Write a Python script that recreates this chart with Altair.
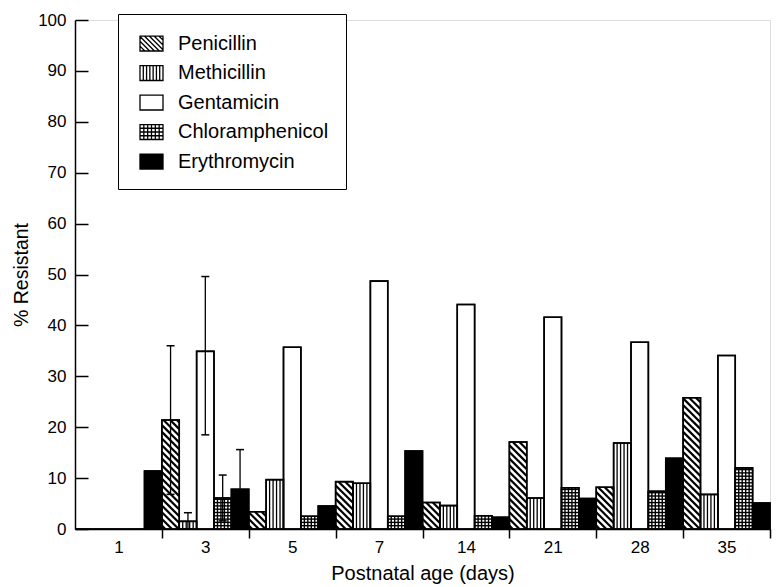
import altair as alt
import pandas as pd

# ---------------- data ----------------
days = ["1", "3", "5", "7", "14", "21", "28", "35"]
drugs = ["Penicillin", "Methicillin", "Gentamicin", "Chloramphenicol", "Erythromycin"]
penicillin = [0, 21.4, 3.4, 9.3, 5.2, 17.1, 8.2, 25.8]
methicillin = [0, 1.5, 9.7, 9.0, 4.6, 6.1, 16.9, 6.8]
gentamicin = [0, 34.9, 35.7, 48.7, 44.1, 41.6, 36.7, 34.1]
chloramphenicol = [0, 6.1, 2.5, 2.5, 2.6, 8.1, 7.4, 12.0]
erythromycin = [11.4, 7.8, 4.5, 15.3, 2.3, 6.0, 13.9, 5.1]

# error bars (shown for day 3 only)
err_day = "3"
err_low = [6.8, 0.0, 18.5, 1.6, 0.6]
err_high = [36.0, 3.2, 49.6, 10.6, 15.6]

series = [penicillin, methicillin, gentamicin, chloramphenicol, erythromycin]

# ---------------- layout constants ----------------
W, H = 695, 509
NB = len(days) * len(drugs)
YMAX = 100.0
pxu = W / NB          # pixels per bar slot
pyu = H / YMAX        # pixels per percent
FONT = "Liberation Sans"
XTITLE = "Postnatal age (days)"
YTITLE = "% Resistant"

# ---------------- derived tables ----------------
rows = []
for g, day in enumerate(days):
    for s, drug in enumerate(drugs):
        idx = g * len(drugs) + s
        rows.append({"day": day, "drug": drug, "x0": idx, "x1": idx + 1,
                     "value": series[s][g], "base": 0.0})
bars = pd.DataFrame(rows)

# hatch segments (computed from the bar values)
diag, vert_m, grid_c = [], [], []
k = pxu / pyu                 # 45 degree slope in data units
sp = 6.7 / pyu                # vertical spacing of diagonal hatch
hstep = 3.3 / pyu             # spacing of horizontal grid lines
for _, r in bars.iterrows():
    v, i = r["value"], r["x0"]
    if v <= 0:
        continue
    if r["drug"] == "Penicillin":
        c = sp * 0.5
        while c < v + k:
            if c <= v:
                xa, ya = i, c
            else:
                xa, ya = i + (c - v) / k, v
            if c - k >= 0:
                xb, yb = i + 1, c - k
            else:
                xb, yb = i + c / k, 0.0
            if xb > xa:
                diag.append({"x": xa, "x2": xb, "y": ya, "y2": yb})
            c += sp
    elif r["drug"] == "Methicillin":
        for j in range(1, 5):
            vert_m.append({"x": i + j / 5, "x2": i + j / 5, "y": 0.0, "y2": v})
    elif r["drug"] == "Chloramphenicol":
        for j in range(1, 5):
            grid_c.append({"x": i + j / 5, "x2": i + j / 5, "y": 0.0, "y2": v})
        yy = hstep
        while yy < v - 0.2:
            grid_c.append({"x": i, "x2": i + 1, "y": yy, "y2": yy})
            yy += hstep
diag = pd.DataFrame(diag)
vert_m = pd.DataFrame(vert_m)
grid_c = pd.DataFrame(grid_c)

g_err = days.index(err_day)
cap = 4.0 / pxu
err = pd.DataFrame({
    "xc": [g_err * len(drugs) + s + 0.5 for s in range(len(drugs))],
    "lo": err_low, "hi": err_high})
err["xa"] = err["xc"] - cap
err["xb"] = err["xc"] + cap

# ---------------- legend icons (custom symbol paths) ----------------
HB = 0.65
BOX = f"M-1,{-HB}L1,{-HB}L1,{HB}L-1,{HB}Z"


def icon_pen():
    p = BOX
    a = -1 - 2 * HB
    while a < 1:
        x1, x2 = max(a, -1), min(a + 2 * HB, 1)
        if x2 > x1:
            p += f"M{x1:.3f},{x1 - a - HB:.3f}L{x2:.3f},{x2 - a - HB:.3f}"
        a += 0.42
    return p


def icon_meth():
    p = BOX
    for j in range(1, 7):
        x = -1 + 2 * j / 7
        p += f"M{x:.3f},{-HB}L{x:.3f},{HB}"
    return p


def icon_chl():
    p = BOX
    for j in range(1, 6):
        x = -1 + 2 * j / 6
        p += f"M{x:.3f},{-HB}L{x:.3f},{HB}"
    for m in range(1, 4):
        y = -HB + 2 * HB * m / 4
        p += f"M-1,{y:.3f}L1,{y:.3f}"
    return p


shapes = [icon_pen(), icon_meth(), BOX, icon_chl(), BOX]
fills = ["white", "white", "white", "white", "black"]

# ---------------- scales / axes ----------------
xscale = alt.Scale(domain=[0, NB], nice=False, zero=False)
yscale = alt.Scale(domain=[0, YMAX], nice=False)
fill_scale = alt.Scale(domain=drugs, range=fills)
shape_scale = alt.Scale(domain=drugs, range=shapes)

days_js = "[" + ",".join(f"'{d}'" for d in days) + "]"
xaxis = alt.Axis(
    values=[2.5 * i for i in range(1, 2 * len(days) + 1)],
    labelExpr=f"datum.value % 5 == 0 ? '' : {days_js}[floor(datum.value / 5)]",
    tickOpacity={"condition": {"test": "datum.value % 5 == 0", "value": 1}, "value": 0},
    tickSize=9, tickWidth=1.5, tickColor="black",
    domainColor="black", domainWidth=1.5,
    labelFontSize=17, labelPadding=1, labelColor="black", labelFont=FONT,
    labelOverlap=False, labelFlush=False,
    grid=False,
    titleFontSize=20, titleFontWeight="normal", titleColor="black", titleFont=FONT,
    titlePadding=8,
)
yaxis = alt.Axis(
    values=list(range(0, 101, 10)),
    tickSize=0, labelPadding=9,
    domainColor="black", domainWidth=1.5,
    grid=True, gridColor="black", gridWidth=1.5, gridOpacity=1, gridDash=[13, 3000],
    labelFontSize=17, labelColor="black", labelFont=FONT,
    titleFontSize=19.5, titleFontWeight="normal", titleColor="black", titleFont=FONT,
    titlePadding=6,
)

legend = alt.Legend(
    title=None, orient="none", legendX=43, legendY=-6,
    fillColor="white", strokeColor="black", padding=17,
    labelFontSize=20, labelFont=FONT, labelColor="black", labelOffset=14,
    labelLimit=400,
    rowPadding=6.5, symbolSize=529, symbolStrokeColor="black", symbolStrokeWidth=1.3,
    symbolOffset=4,
)

base_bars = alt.Chart(bars)

fill_layer = base_bars.mark_rect(stroke="black", strokeWidth=1.5).encode(
    x=alt.X("x0:Q", scale=xscale, axis=xaxis, title=XTITLE),
    x2="x1:Q",
    y=alt.Y("value:Q", scale=yscale, axis=yaxis, title=YTITLE),
    y2="base:Q",
    fill=alt.Fill("drug:N", scale=fill_scale, legend=legend),
)


def seg_layer(df, width):
    return alt.Chart(df).mark_rule(color="black", strokeWidth=width).encode(
        x=alt.X("x:Q", scale=xscale, title=XTITLE),
        x2="x2:Q",
        y=alt.Y("y:Q", scale=yscale, title=YTITLE),
        y2="y2:Q",
    )


pen_layer = seg_layer(diag, 2.2)
meth_layer = seg_layer(vert_m, 1.3)
chl_layer = seg_layer(grid_c, 1.4)

outline_layer = base_bars.mark_rect(fillOpacity=0, stroke="black", strokeWidth=1.6).encode(
    x=alt.X("x0:Q", scale=xscale, title=XTITLE),
    x2="x1:Q",
    y=alt.Y("value:Q", scale=yscale, title=YTITLE),
    y2="base:Q",
)

err_base = alt.Chart(err)
err_line = err_base.mark_rule(color="black", strokeWidth=1.3).encode(
    x=alt.X("xc:Q", scale=xscale, title=XTITLE),
    y=alt.Y("lo:Q", scale=yscale, title=YTITLE),
    y2="hi:Q",
)
cap_hi = err_base.mark_rule(color="black", strokeWidth=1.5).encode(
    x=alt.X("xa:Q", scale=xscale, title=XTITLE), x2="xb:Q",
    y=alt.Y("hi:Q", scale=yscale, title=YTITLE),
)
cap_lo = err_base.mark_rule(color="black", strokeWidth=1.5).encode(
    x=alt.X("xa:Q", scale=xscale, title=XTITLE), x2="xb:Q",
    y=alt.Y("lo:Q", scale=yscale, title=YTITLE),
)

legend_layer = base_bars.mark_point(
    filled=True, opacity=1, size=0, stroke="black", strokeWidth=0
).encode(
    x=alt.X("x0:Q", scale=xscale, title=XTITLE),
    y=alt.Y("base:Q", scale=yscale, title=YTITLE),
    fill=alt.Fill("drug:N", scale=fill_scale, legend=legend),
    shape=alt.Shape("drug:N", scale=shape_scale, legend=legend),
)

chart = alt.layer(
    fill_layer, pen_layer, meth_layer, chl_layer, outline_layer,
    err_line, cap_hi, cap_lo, legend_layer,
).properties(
    width=W, height=H,
    autosize=alt.AutoSizeParams(type="none"),
    padding={"left": 67, "top": 12, "right": 2, "bottom": 58},
    background="white",
).configure_view(strokeWidth=0).configure_legend(strokeWidth=1.5).configure(font=FONT)

chart.save("out.html", embed_options={"renderer": "svg", "actions": False})
